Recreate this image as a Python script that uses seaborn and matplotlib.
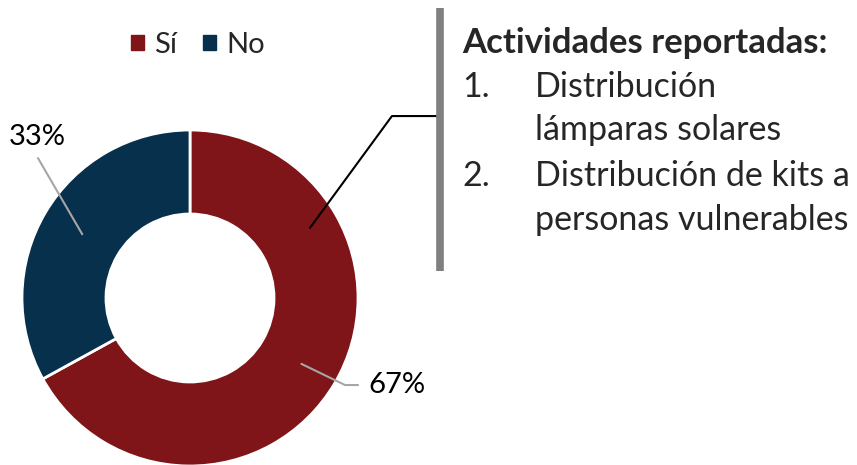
import matplotlib.pyplot as plt
import numpy as np
import seaborn as sns

labels = ["Sí", "No"]
values = [67, 33]
colors = ["#7F1518", "#07304C"]
title = "Actividades reportadas:"
items = [("1.", ["Distribución", "lámparas solares"]),
         ("2.", ["Distribución de kits a", "personas vulnerables"])]

sns.set_theme(style="white")
plt.rcParams["font.family"] = ["Lato", "DejaVu Sans"]

W, H = 857, 465
fig = plt.figure(figsize=(W / 100, H / 100), dpi=100)

# donut axes: centre (190, 298) px, radius 168 px
cx, cy, r = 190, 298, 168
ax = fig.add_axes([(cx - r) / W, (H - cy - r) / H, 2 * r / W, 2 * r / H])
wedges, _ = ax.pie(values, colors=colors, startangle=90, counterclock=False,
                   radius=1, wedgeprops=dict(width=0.5, edgecolor="white", linewidth=2))
ax.set_xlim(-1, 1)
ax.set_ylim(-1, 1)
ax.set_aspect("equal")
ax.axis("off")

def mid(w, rad):
    a = np.deg2rad((w.theta1 + w.theta2) / 2)
    return rad * np.cos(a), rad * np.sin(a)

# 67% label
x0, y0 = mid(wedges[0], 0.77)
ax.plot([x0, 0.923, 1.0], [y0, -0.518, -0.518], color="#A6A6A6", lw=1.5, clip_on=False)
ax.text(1.06, -0.518, f"{values[0]}%", ha="left", va="center", fontsize=21, color="black")

# 33% label
x1, y1 = mid(wedges[1], 0.745)
ax.plot([x1, -0.905], [y1, 0.833], color="#A6A6A6", lw=1.5, clip_on=False)
ax.text(-0.91, 0.96, f"{values[1]}%", ha="center", va="center", fontsize=21, color="black")

# callout line to text box
ax.plot([0.714, 1.202, 1.47], [0.417, 1.083, 1.083], color="black", lw=1.5, clip_on=False)

# legend
handles = [plt.Rectangle((0, 0), 1, 1, color=c) for c in colors]
fig.legend(handles, labels, loc="center", bbox_to_anchor=(198 / W, 1 - 45 / H), ncol=2,
           frameon=False, fontsize=21, handlelength=0.45, handleheight=0.45,
           handletextpad=0.35, columnspacing=0.9)

# text box with grey bar
fig.add_artist(plt.Line2D([440 / W, 440 / W], [1 - 8 / H, 1 - 271 / H],
                          color="#808080", lw=5.5, solid_capstyle="butt",
                          transform=fig.transFigure))
fig.text(462 / W, 1 - 43 / H, title, fontsize=25, fontweight="bold", ha="left", va="center")
ys = [87, 130, 176, 220]
k = 0
for num, lines in items:
    fig.text(462 / W, 1 - ys[k] / H, num, fontsize=24.5, ha="left", va="center")
    for ln in lines:
        fig.text(535 / W, 1 - ys[k] / H, ln, fontsize=24.5, ha="left", va="center")
        k += 1

fig.savefig("out.png", dpi=100, facecolor="white")
